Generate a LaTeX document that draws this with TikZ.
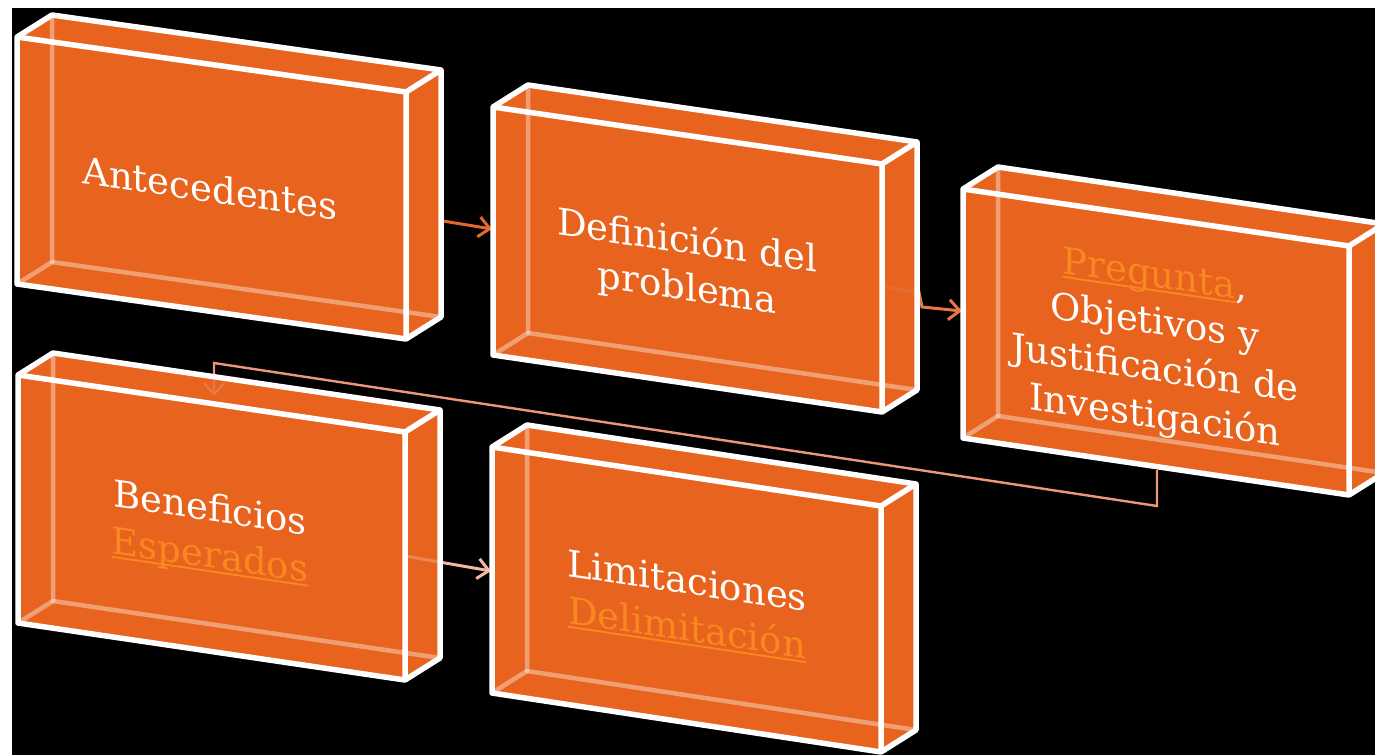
\documentclass[tikz,border=0pt]{standalone}
\usepackage{fontspec}
\setmainfont{DejaVu Serif}
\usetikzlibrary{arrows.meta}
\definecolor{boxor}{RGB}{232,100,30}
\definecolor{linkor}{RGB}{250,136,32}
\definecolor{conA}{RGB}{226,104,44}
\definecolor{conB}{RGB}{232,118,70}
\definecolor{conC}{RGB}{238,150,120}
\definecolor{conD}{RGB}{244,184,162}
\newcommand\ulink[1]{\setbox0\hbox{#1}\rlap{\rule[-0.12em]{\wd0}{0.05em}}\box0}
\newcommand\boxcoords[6]{%
 \coordinate (#1-ftl) at (#2,#3);
 \coordinate (#1-ftr) at ({#2+#4},{#3+#6});
 \coordinate (#1-fbr) at ({#2+#4},{#3+#6+#5});
 \coordinate (#1-fbl) at (#2,{#3+#5});
 \coordinate (#1-btl) at ({#2+35},{#3-22});
 \coordinate (#1-btr) at ({#2+#4+35},{#3+#6-22});
 \coordinate (#1-bbr) at ({#2+#4+35},{#3+#6+#5-22});
 \coordinate (#1-bbl) at ({#2+35},{#3+#5-22});
}
\newcommand\boxfill[2]{\fill[boxor,#2] (#1-ftl)--(#1-btl)--(#1-btr)--(#1-bbr)--(#1-fbr)--(#1-fbl)--cycle;}
\newcommand\boxedges[1]{%
 \draw[faintedge] (#1-fbl)--(#1-bbl)--(#1-btl);
 \draw[faintedge] (#1-bbl)--(#1-bbr);
 \draw[whiteedge] (#1-ftl)--(#1-ftr)--(#1-fbr)--(#1-fbl)--cycle;
 \draw[whiteedge] (#1-ftl)--(#1-btl)--(#1-btr)--(#1-bbr)--(#1-fbr);
 \draw[whiteedge] (#1-ftr)--(#1-btr);
}
\tikzset{
 faintedge/.style={draw=white, draw opacity=0.38, line width=4.5pt, line cap=round},
 whiteedge/.style={draw=white, line width=5.5pt, line join=round},
 conn/.style={line width=3pt, -{Straight Barb[length=11pt,width=20pt]}},
 txt/.style={text=white, font=\fontsize{37}{47}\selectfont, align=center, inner sep=0pt},
}
\begin{document}
\begin{tikzpicture}[x=1pt,y=-1pt]
\useasboundingbox (0,0) rectangle (1375,755);
\fill[white] (0,0) rectangle (1375,755);
\fill[black] (12,8) rectangle (1375,755);
\boxcoords{b1}{17}{37}{389}{247}{55}
\boxcoords{b2}{493}{107}{389}{248}{57}
\boxcoords{b3}{963}{189}{386}{249}{57}
\boxcoords{b4}{18}{375}{387}{248}{57}
\boxcoords{b5}{492}{447}{389}{246}{59}
% connector end points
\coordinate (b1-r) at (406,215);
\coordinate (b2-l) at (492,229);
\coordinate (b2-r) at (882,287);
\coordinate (c2a) at (919,292);
\coordinate (c2b) at (922,307);
\coordinate (b3-l) at (962,311);
\coordinate (b3-b) at (1157,470);
\coordinate (c3a) at (1157,506);
\coordinate (c3b) at (214,363);
\coordinate (b4-t) at (214,396);
\coordinate (b4-r) at (405,556);
\coordinate (b5-l) at (491,571);
% opaque fills
\boxfill{b1}{}\boxfill{b2}{}\boxfill{b3}{}\boxfill{b4}{}\boxfill{b5}{}
% connectors
\draw[conn, conA] (b1-r) -- (b2-l);
\draw[conn, conB] (b2-r) -- (c2a) -- (c2b) -- (b3-l);
\draw[conn, conC, line width=2.4pt] (b3-b) -- (c3a) -- (c3b) -- (b4-t);
\draw[conn, conD] (b4-r) -- (b5-l);
% translucent faces over connectors
\boxfill{b1}{opacity=0.6}\boxfill{b2}{opacity=0.6}\boxfill{b3}{opacity=0.6}\boxfill{b4}{opacity=0.6}\boxfill{b5}{opacity=0.6}
% edges
\boxedges{b1}\boxedges{b2}\boxedges{b3}\boxedges{b4}\boxedges{b5}
% texts
\node[txt, yslant=-0.142] (t1) at (210,188) {Antecedentes};
\node[txt, yslant=-0.146] (t2) at (687,266) {Definición del\\problema};
\node[txt, yslant=-0.148] (t3) at (1155,348) {\textcolor{linkor}{\ulink{Pregunta}},\\Objetivos y\\Justificación de\\Investigación};
\node[txt, yslant=-0.147] (t4) at (210,534) {Beneficios\\\textcolor{linkor}{\ulink{Esperados}}};
\node[txt, yslant=-0.149] (t5) at (687,606) {Limitaciones\\\textcolor{linkor}{\ulink{Delimitación}}};
\end{tikzpicture}
\end{document}
